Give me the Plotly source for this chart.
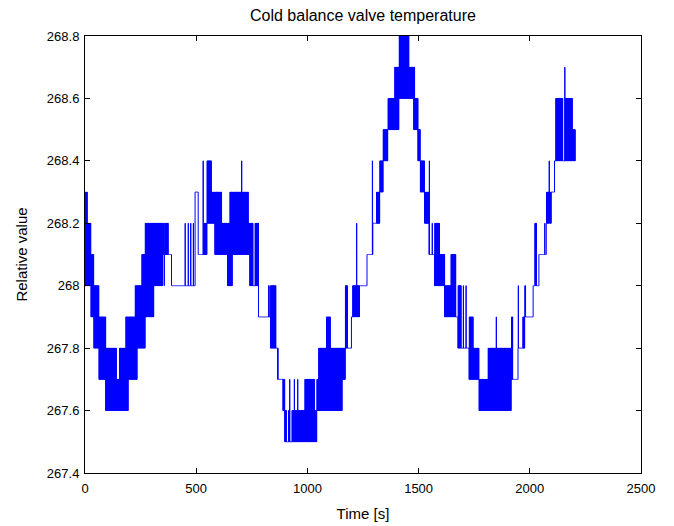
import plotly.graph_objects as go

# Segments: in each time span [start, end) the signal
# alternates between a low and a high quantised level (equal = flat).
seg_start = [0, 10, 27, 40, 63, 93, 142, 154, 183, 195, 225, 235, 255, 270, 310, 349, 356, 358, 374, 389,
             449, 451, 463, 466, 474, 477, 486, 489, 495, 509, 530, 533, 548, 569, 584, 614, 641, 651, 662, 703,
             706, 734, 741, 756, 764, 780, 824, 828, 834, 858, 866, 868, 890, 898, 906, 914, 919, 922, 930, 940,
             943, 955, 958, 988, 1033, 1042, 1050, 1085, 1103, 1157, 1170, 1180, 1198, 1203, 1220, 1223, 1235, 1268, 1291, 1294,
             1310, 1325, 1340, 1362, 1392, 1412, 1457, 1478, 1483, 1497, 1508, 1527, 1547, 1550, 1560, 1563, 1572, 1595, 1617, 1645,
             1667, 1677, 1692, 1700, 1703, 1712, 1715, 1727, 1745, 1772, 1812, 1848, 1851, 1917, 1924, 1947, 1950, 1968, 1977, 1982,
             2015, 2022, 2030, 2041, 2066, 2069, 2074, 2086, 2089, 2096, 2111, 2116, 2148, 2156, 2159, 2191]
seg_end = seg_start[1:] + [2205]
seg_low = [268.0, 268.0, 267.9, 267.8, 267.7, 267.6, 267.6, 267.6, 267.6, 267.7, 267.7, 267.8, 267.8, 267.9, 268.0, 268.1, 268.0, 268.1, 268.1, 268.0,
           268.0, 268.0, 268.0, 268.0, 268.0, 268.0, 268.0, 268.0, 268.3, 268.1, 268.1, 268.1, 268.2, 268.2, 268.1, 268.1, 268.0, 268.0, 268.1, 268.1,
           268.1, 268.1, 268.0, 268.0, 268.0, 267.9, 267.9, 267.9, 267.8, 267.8, 267.7, 267.7, 267.6, 267.5, 267.5, 267.5, 267.5, 267.5, 267.5, 267.5,
           267.5, 267.5, 267.5, 267.5, 267.5, 267.6, 267.6, 267.6, 267.6, 267.7, 267.8, 267.8, 267.9, 267.9, 268.0, 267.9, 268.0, 268.1, 268.1, 268.2,
           268.2, 268.3, 268.4, 268.5, 268.5, 268.6, 268.6, 268.5, 268.5, 268.4, 268.3, 268.2, 268.1, 268.1, 268.1, 268.1, 268.0, 268.0, 267.9, 267.9,
           267.9, 267.8, 267.8, 267.8, 267.8, 267.8, 267.8, 267.7, 267.7, 267.6, 267.6, 267.6, 267.6, 267.7, 267.7, 267.8, 267.8, 267.8, 267.9, 267.9,
           268.0, 268.0, 268.0, 268.1, 268.1, 268.1, 268.2, 268.3, 268.2, 268.3, 268.4, 268.4, 268.4, 268.4, 268.4, 268.4]
seg_high = [268.3, 268.2, 268.1, 268.0, 267.9, 267.8, 267.7, 267.8, 267.9, 267.9, 268.0, 268.0, 268.1, 268.2, 268.2, 268.2, 268.1, 268.2, 268.1, 268.0,
            268.2, 268.0, 268.2, 268.0, 268.2, 268.0, 268.2, 268.0, 268.3, 268.1, 268.4, 268.2, 268.4, 268.3, 268.3, 268.2, 268.2, 268.3, 268.3, 268.4,
            268.3, 268.2, 268.2, 268.0, 268.2, 267.9, 268.0, 267.9, 268.0, 267.8, 267.8, 267.7, 267.7, 267.6, 267.5, 267.6, 267.7, 267.5, 267.6, 267.7,
            267.6, 267.7, 267.6, 267.7, 267.6, 267.7, 267.8, 267.9, 267.8, 267.8, 268.0, 267.8, 267.9, 268.0, 268.2, 268.0, 268.0, 268.1, 268.4, 268.2,
            268.3, 268.4, 268.5, 268.6, 268.7, 268.8, 268.7, 268.7, 268.6, 268.5, 268.4, 268.3, 268.4, 268.1, 268.2, 268.1, 268.2, 268.1, 268.0, 268.1,
            267.9, 268.0, 267.8, 268.0, 267.8, 268.0, 267.8, 267.9, 267.8, 267.7, 267.8, 267.9, 267.8, 267.9, 267.7, 268.0, 267.8, 267.9, 268.0, 267.9,
            268.0, 268.2, 268.0, 268.1, 268.2, 268.1, 268.3, 268.4, 268.3, 268.3, 268.4, 268.6, 268.4, 268.7, 268.6, 268.5]

x_ticks = [0, 500, 1000, 1500, 2000, 2500]
y_ticks = [267.4, 267.6, 267.8, 268.0, 268.2, 268.4, 268.6, 268.8]
y_ticktext = ["267.4", "267.6", "267.8", "268", "268.2", "268.4", "268.6", "268.8"]

times, values = [], []
for s, e, lo, hi in zip(seg_start, seg_end, seg_low, seg_high):
    for t in range(s, e):
        times.append(t)
        values.append(lo if (t - s) % 2 == 0 else hi)

fig = go.Figure(go.Scatter(x=times, y=values, mode="lines",
                           line=dict(color="#0000ff", width=1, shape="hv"),
                           showlegend=False, hoverinfo="skip"))

fam = "Liberation Sans, Arial, sans-serif"
tick_font = dict(family=fam, size=13, color="black")
label_font = dict(family=fam, size=15, color="black")
axis_common = dict(showgrid=False, zeroline=False, showline=True, linecolor="black", linewidth=1,
                   mirror="ticks", ticks="inside", ticklen=5, tickcolor="black", tickfont=tick_font,
                   automargin=False)

fig.update_layout(
    width=674, height=526,
    margin=dict(l=85, r=33, t=36, b=53),
    paper_bgcolor="white", plot_bgcolor="white",
    font=tick_font,
    title=dict(text="Cold balance valve temperature", x=0.5385, xanchor="center",
               y=1 - 15 / 526, yanchor="middle", font=dict(family=fam, size=16, color="black")),
    xaxis=dict(range=[0, 2500], tickvals=x_ticks, ticktext=[str(v) for v in x_ticks],
               ticklabelstandoff=3,
               title=dict(text="Time [s]", font=label_font, standoff=13), **axis_common),
    yaxis=dict(range=[267.4, 268.8], tickvals=y_ticks, ticktext=y_ticktext,
               ticklabelstandoff=2,
               title=dict(text="Relative value", font=label_font, standoff=15), **axis_common),
)

fig.write_html("out.html")
